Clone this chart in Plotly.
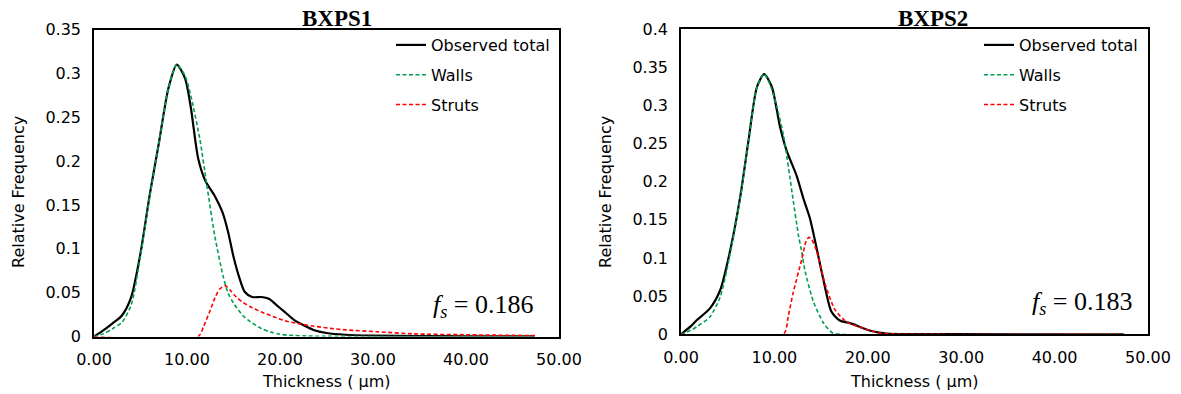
import plotly.graph_objects as go

# ---------------- data ----------------
# BXPS1
b1_total_x = [0, 1, 2, 3, 4, 5, 6, 7, 8, 8.9, 9.8, 10.4, 11.2, 12.0, 13.0, 13.8, 14.4, 15.0,
              15.6, 16.2, 17.0, 18.0, 18.8, 19.6, 20.5, 21.5, 22.5, 23.6, 25, 27, 30, 35, 40, 47.4]
b1_total_y = [0, 0.007, 0.015, 0.024, 0.045, 0.095, 0.162, 0.222, 0.283, 0.310, 0.294, 0.262,
              0.203, 0.177, 0.160, 0.142, 0.120, 0.091, 0.068, 0.051, 0.045, 0.045, 0.043,
              0.036, 0.028, 0.019, 0.013, 0.0075, 0.004, 0.002, 0.001, 0.0005, 0.0003, 0.0002]
b1_walls_x = [0, 1, 2, 3, 4, 5, 6, 7, 8, 8.9, 9.8, 10.4, 11.4, 12.1, 13.0, 13.9, 14.4, 15.0,
              16.0, 16.8, 18, 19, 20, 21, 23, 25, 30, 47.4]
b1_walls_y = [0, 0.003, 0.009, 0.016, 0.036, 0.092, 0.160, 0.222, 0.283, 0.310, 0.297, 0.275,
              0.224, 0.175, 0.114, 0.068, 0.050, 0.038, 0.024, 0.017, 0.009, 0.005, 0.0025,
              0.0015, 0.0005, 0.0002, 0, 0]
b1_struts_x = [0, 11.2, 11.8, 12.5, 13.0, 13.5, 14.1, 14.7, 15.3, 16.0, 16.8, 18.0, 19.3, 20.5,
               21.8, 23.5, 25.4, 27.2, 30.4, 34.3, 40, 47.4]
b1_struts_y = [0, 0, 0.012, 0.030, 0.044, 0.054, 0.058, 0.052, 0.045, 0.039, 0.034, 0.028,
               0.0226, 0.018, 0.015, 0.012, 0.0093, 0.0074, 0.0055, 0.003, 0.002, 0.001]

# BXPS2
b2_total_x = [0, 1, 1.7, 3.1, 4.2, 5.27, 6.34, 7.24, 8.13, 8.9, 9.73, 10.6, 11.3, 12.4, 13.1,
              13.8, 14.5, 15.2, 16.1, 17.0, 18.0, 18.5, 19.5, 20.5, 22, 25, 30, 47.4]
b2_total_y = [0, 0.010, 0.0187, 0.034, 0.058, 0.110, 0.180, 0.255, 0.324, 0.341, 0.324, 0.272,
              0.241, 0.207, 0.178, 0.152, 0.114, 0.074, 0.030, 0.018, 0.015, 0.013, 0.008,
              0.004, 0.001, 0.0003, 0.0001, 0]
b2_walls_x = [0, 1, 1.7, 3.1, 4.2, 5.27, 6.34, 7.24, 8.13, 8.9, 9.6, 10.27, 11.0, 11.9, 12.6,
              12.9, 13.3, 14.2, 15.3, 16.2, 17, 47.4]
b2_walls_y = [0, 0.005, 0.010, 0.023, 0.049, 0.106, 0.178, 0.254, 0.324, 0.341, 0.325, 0.298,
              0.259, 0.185, 0.128, 0.110, 0.082, 0.042, 0.014, 0.002, 0, 0]
b2_struts_x = [0, 10.95, 11.5, 12.0, 12.9, 13.4, 13.7, 14.0, 14.5, 15.4, 16.5, 17.7, 19.5,
               21.3, 23, 47.4]
b2_struts_y = [0, 0, 0.025, 0.054, 0.097, 0.122, 0.127, 0.124, 0.110, 0.067, 0.032, 0.0165,
               0.008, 0.0015, 0.0003, 0]

panel_titles = ["BXPS1", "BXPS2"]
fs_values = ["0.186", "0.183"]
series_names = ["Observed total", "Walls", "Struts"]
x_tick_vals = [0, 10, 20, 30, 40, 50]

# ---------------- styling ----------------
W, H = 1181, 394
BLACK = "#000000"
GREEN = "#00A050"
RED = "#FF0000"
FONT = "DejaVu Sans"
FS = 16

def px_x(v):
    return v / W

def px_y(v):
    return 1 - v / H

panels = [
    dict(xd=[94, 559], yd=[29.5, 336.5], ymax=0.35, fs_right=535, legend_text=431,
         data=[(b1_total_x, b1_total_y), (b1_walls_x, b1_walls_y), (b1_struts_x, b1_struts_y)]),
    dict(xd=[681, 1148], yd=[29, 334.3], ymax=0.4, fs_right=1134, legend_text=1019,
         data=[(b2_total_x, b2_total_y), (b2_walls_x, b2_walls_y), (b2_struts_x, b2_struts_y)]),
]

styles = [
    dict(color=BLACK, width=2.2, dash="solid"),
    dict(color=GREEN, width=1.6, dash="4px,2.5px"),
    dict(color=RED, width=1.6, dash="4px,2.5px"),
]

fig = go.Figure()
layout = dict(
    width=W, height=H,
    margin=dict(l=0, r=0, t=0, b=0, autoexpand=False),
    paper_bgcolor="white", plot_bgcolor="white",
    font=dict(family=FONT, size=FS, color=BLACK),
    annotations=[],
)

for i, p in enumerate(panels):
    sfx = "" if i == 0 else str(i + 1)
    xa, ya = "x" + sfx, "y" + sfx
    leg = "legend" if i == 0 else "legend" + str(i + 1)
    for j, (xs, ys) in enumerate(p["data"]):
        st = styles[j]
        fig.add_trace(go.Scatter(
            x=xs, y=ys, mode="lines", name=series_names[j],
            line=dict(color=st["color"], width=st["width"], dash=st["dash"],
                      shape="spline", smoothing=0.7),
            xaxis=xa, yaxis=ya, legend=leg, legendgroup=f"g{i}{j}",
            showlegend=True,
        ))
    axis_common = dict(showline=True, linecolor=BLACK, linewidth=1.5, mirror=True,
                       showgrid=False, zeroline=False, ticks="", automargin=False,
                       tickfont=dict(family=FONT, size=FS, color=BLACK))
    layout["xaxis" + sfx] = dict(
        domain=[px_x(p["xd"][0]), px_x(p["xd"][1])], anchor=ya,
        range=[0, 50], tickvals=x_tick_vals, tickformat=".2f",
        ticklabelstandoff=8, **axis_common)
    layout["yaxis" + sfx] = dict(
        domain=[px_y(p["yd"][1]), px_y(p["yd"][0])], anchor=xa,
        range=[0, p["ymax"]], dtick=0.05, ticklabelstandoff=8, **axis_common)

    legend_left = p["legend_text"] - 40
    layout[leg] = dict(
        x=px_x(legend_left), xanchor="left", y=px_y(28), yanchor="top",
        bgcolor="rgba(0,0,0,0)", borderwidth=0, tracegroupgap=6,
        font=dict(family=FONT, size=FS, color=BLACK),
    )

    cx = (p["xd"][0] + p["xd"][1]) / 2
    # panel title
    layout["annotations"].append(dict(
        text="<b>" + panel_titles[i] + "</b>", xref="paper", yref="paper",
        x=px_x(cx + 10 + (0 if i == 0 else 8)), y=px_y(18), xanchor="center", yanchor="middle",
        showarrow=False, font=dict(family="Liberation Serif", size=23, color=BLACK)))
    # f_s annotation
    layout["annotations"].append(dict(
        text="<i>f</i><sub><i>s</i></sub> = " + fs_values[i], xref="paper", yref="paper",
        x=px_x(p["fs_right"]), y=px_y(p["yd"][1] - 31),
        xanchor="right", yanchor="middle",
        showarrow=False, font=dict(family="Liberation Serif", size=26, color=BLACK)))
    # axis titles
    layout["annotations"].append(dict(
        text="Thickness ( μm)", xref="paper", yref="paper",
        x=px_x(cx), y=px_y(381.5), xanchor="center", yanchor="middle",
        showarrow=False, font=dict(family=FONT, size=FS, color=BLACK)))
    layout["annotations"].append(dict(
        text="Relative Frequency", xref="paper", yref="paper",
        x=px_x(p["xd"][0] - 76), y=px_y(192), xanchor="center", yanchor="middle",
        textangle=-90, showarrow=False, font=dict(family=FONT, size=FS, color=BLACK)))

fig.update_layout(**layout)
fig.write_html("out.html")
